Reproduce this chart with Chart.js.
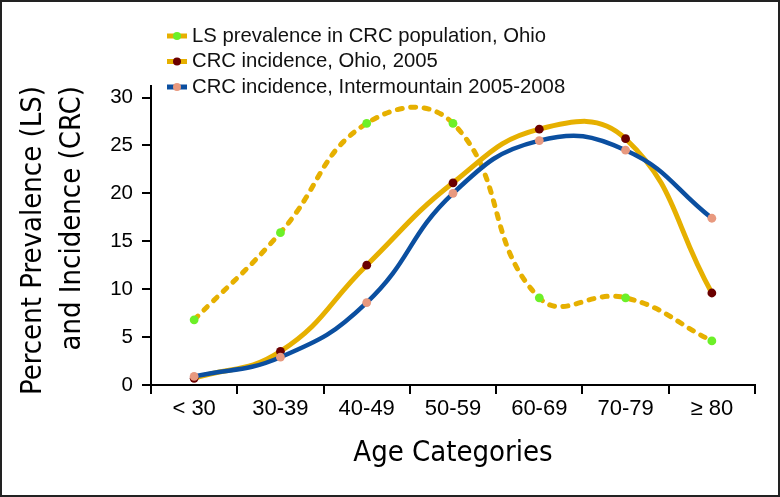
<!DOCTYPE html>
<html>
<head>
<meta charset="utf-8">
<script src="https://cdn.jsdelivr.net/npm/chart.js@4.4.1/dist/chart.umd.min.js"></script>
<style>
    body { margin: 0; background: #fff; }
    canvas { display: block; }
</style>
</head>
<body>
<canvas id="ageChart" width="780" height="497"></canvas>
<script>
// DATA
const ageGroups = ["< 30", "30-39", "40-49", "50-59", "60-69", "70-79", "≥ 80"];
const lsPrevalenceOhio = [6.8, 15.9, 27.3, 27.3, 9.1, 9.1, 4.6];
const crcIncidenceOhio = [0.7, 3.5, 12.5, 21.1, 26.7, 25.7, 9.6];
const crcIncidenceIntermountain = [0.9, 2.9, 8.6, 20.0, 25.5, 24.5, 17.4];
const yTicks = [0, 5, 10, 15, 20, 25, 30];

const YELLOW = "#e6b000";
const BLUE = "#0b4fa0";
const NARROW = "'Liberation Sans Narrow', 'DejaVu Sans Condensed', sans-serif";
const SANS = "'Liberation Sans', Arial, sans-serif";

// LEGEND (drawn top left, line + dot marker)
const legendPlugin = {
    id: "cornerLegend",
    afterDraw(chart) {
        const ctx = chart.ctx;
        ctx.save();
        chart.data.datasets.forEach((ds, i) => {
            const y = 36 + i * 25.5;
            ctx.strokeStyle = ds.borderColor;
            ctx.lineWidth = 5;
            ctx.setLineDash([]);
            ctx.beginPath();
            ctx.moveTo(167, y);
            ctx.lineTo(187, y);
            ctx.stroke();
            ctx.fillStyle = ds.pointBackgroundColor;
            ctx.beginPath();
            ctx.arc(177, y, 4, 0, Math.PI * 2);
            ctx.fill();
            ctx.fillStyle = "#111";
            ctx.font = "20.3px " + SANS;
            ctx.textBaseline = "middle";
            ctx.textAlign = "left";
            ctx.fillText(ds.label, 192, y);
        });
        ctx.restore();
    }
};

// FRAME
const framePlugin = {
    id: "frame",
    afterDraw(chart) {
        const ctx = chart.ctx;
        ctx.save();
        ctx.strokeStyle = "#222";
        ctx.lineWidth = 2;
        ctx.strokeRect(1, 1, chart.width - 2, chart.height - 2);
        ctx.restore();
    }
};

// CHART
const ctx = document.getElementById("ageChart").getContext("2d");
new Chart(ctx, {
    type: "line",
    data: {
        labels: ageGroups,
        datasets: [
            {
                label: "LS prevalence in CRC population, Ohio",
                data: lsPrevalenceOhio,
                borderColor: YELLOW,
                borderWidth: 5,
                borderDash: [5, 8.5],
                borderCapStyle: "round",
                pointBackgroundColor: "#6cf028",
                pointBorderWidth: 0,
                pointRadius: 4.4,
                tension: 0.45,
                order: 3
            },
            {
                label: "CRC incidence, Ohio, 2005",
                data: crcIncidenceOhio,
                borderColor: YELLOW,
                borderWidth: 5,
                pointBackgroundColor: "#6b0000",
                pointBorderWidth: 0,
                pointRadius: 4.4,
                tension: 0.45,
                order: 2
            },
            {
                label: "CRC incidence, Intermountain 2005-2008",
                data: crcIncidenceIntermountain,
                borderColor: BLUE,
                borderWidth: 4.5,
                pointBackgroundColor: "#e8997f",
                pointBorderWidth: 0,
                pointRadius: 4.4,
                tension: 0.45,
                order: 1
            }
        ]
    },
    options: {
        responsive: false,
        animation: false,
        devicePixelRatio: 1,
        layout: { padding: { top: 86, right: 25, left: 0, bottom: 0 } },
        plugins: {
            legend: { display: false },
            tooltip: { enabled: false }
        },
        scales: {
            x: {
                offset: true,
                grid: {
                    offset: true,
                    drawOnChartArea: false,
                    drawTicks: true,
                    tickLength: 9,
                    color: "#000",
                    lineWidth: 2
                },
                border: { display: true, color: "#000", width: 2 },
                ticks: {
                    color: "#000",
                    font: { family: SANS, size: 22 },
                    padding: 2,
                    maxRotation: 0
                },
                title: {
                    display: true,
                    text: "Age Categories",
                    color: "#000",
                    font: { family: NARROW, size: 29, lineHeight: 1.2 },
                    padding: { top: 0, bottom: 26.6 }
                },
                afterFit(scale) { scale.height = 112; }
            },
            y: {
                min: 0,
                max: 31.2,
                grid: {
                    drawOnChartArea: false,
                    drawTicks: true,
                    tickLength: 9,
                    color: "#000",
                    lineWidth: 2
                },
                border: { display: true, color: "#000", width: 2 },
                ticks: {
                    color: "#000",
                    font: { family: SANS, size: 20.5 },
                    padding: 9
                },
                afterBuildTicks(scale) {
                    scale.ticks = yTicks.map(v => ({ value: v }));
                },
                title: {
                    display: true,
                    text: ["Percent Prevalence (LS)", "and Incidence (CRC)"],
                    align: "end",
                    color: "#000",
                    font: { family: NARROW, size: 29, lineHeight: 1.345 },
                    padding: { top: 13.5, bottom: 0 }
                },
                afterFit(scale) { scale.width = 151; }
            }
        }
    },
    plugins: [legendPlugin, framePlugin]
});
</script>
</body>
</html>
